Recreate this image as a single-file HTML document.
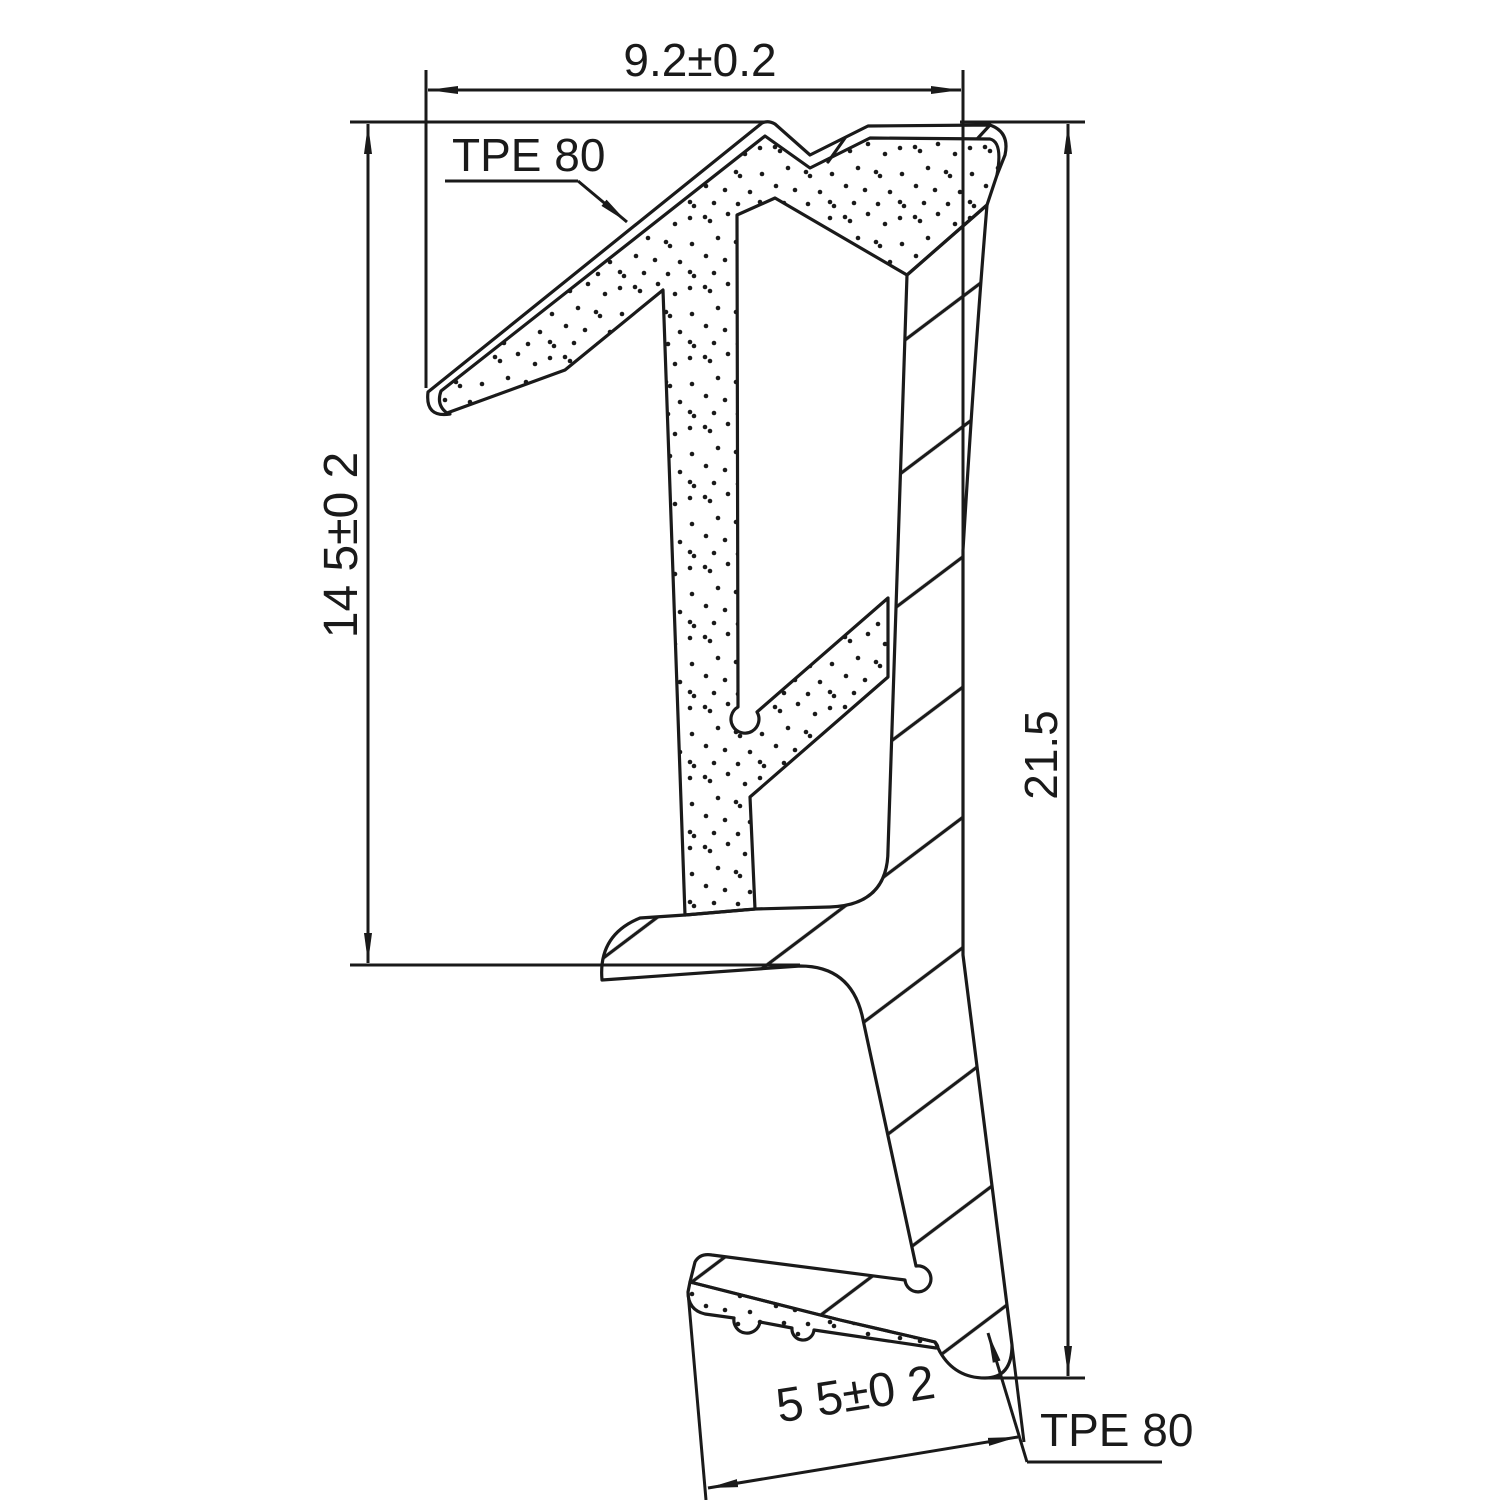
<!DOCTYPE html>
<html><head><meta charset="utf-8">
<style>
html,body{margin:0;padding:0;background:#fff;}
svg{display:block;}
text{font-family:"Liberation Sans Narrow","Liberation Sans","DejaVu Sans Condensed",sans-serif;fill:#1a1a1a;}
</style></head>
<body>
<svg width="1500" height="1500" viewBox="0 0 1500 1500" xmlns="http://www.w3.org/2000/svg">
<defs>
  <pattern id="dots" patternUnits="userSpaceOnUse" width="70" height="70">
    <circle cx="5" cy="7" r="2.3" fill="#1a1a1a"/>
    <circle cx="10" cy="11" r="2.3" fill="#1a1a1a"/>
    <circle cx="28" cy="4" r="2.3" fill="#1a1a1a"/>
    <circle cx="45" cy="14" r="2.3" fill="#1a1a1a"/>
    <circle cx="60" cy="8" r="2.3" fill="#1a1a1a"/>
    <circle cx="18" cy="28" r="2.3" fill="#1a1a1a"/>
    <circle cx="36" cy="32" r="2.3" fill="#1a1a1a"/>
    <circle cx="40" cy="36" r="2.3" fill="#1a1a1a"/>
    <circle cx="62" cy="34" r="2.3" fill="#1a1a1a"/>
    <circle cx="6" cy="46" r="2.3" fill="#1a1a1a"/>
    <circle cx="25" cy="50" r="2.3" fill="#1a1a1a"/>
    <circle cx="50" cy="52" r="2.3" fill="#1a1a1a"/>
    <circle cx="14" cy="63" r="2.3" fill="#1a1a1a"/>
    <circle cx="38" cy="64" r="2.3" fill="#1a1a1a"/>
    <circle cx="60" cy="62" r="2.3" fill="#1a1a1a"/>
    <circle cx="64" cy="66" r="2.3" fill="#1a1a1a"/>
  </pattern>
  <pattern id="hatch" patternUnits="userSpaceOnUse" width="400" height="104" x="905" y="340" patternTransform="rotate(-37 905 340)">
    <line x1="-10" y1="0" x2="410" y2="0" stroke="#1a1a1a" stroke-width="3.2"/>
    <line x1="-10" y1="104" x2="410" y2="104" stroke="#1a1a1a" stroke-width="3.2"/>
  </pattern>
  <marker id="ar" viewBox="0 0 30 10" refX="30" refY="5" markerWidth="30" markerHeight="10" markerUnits="userSpaceOnUse" orient="auto-start-reverse">
    <path d="M0,1 L30,5 L0,9 Z" fill="#1a1a1a"/>
  </marker>
</defs>

<g stroke="#1a1a1a" stroke-width="3.2" stroke-linejoin="round" stroke-linecap="round">
  <path fill="url(#hatch)" d="M907,275 L987,205 Q975,350 963,550 L963,955 L1012,1345 Q1012,1378 985,1378 Q955,1378 940,1352 L935,1342 L840,1320 L690,1282 L695,1262 Q700,1253 712,1255 L905,1280 A13 13 0 1 0 916,1266 L862,1015 Q850,966 800,966 L602,980 Q598,935 640,918 L685,915 L755,909 L830,907 Q888,905 888,850 Z"/>
  <path fill="url(#dots)" d="M447,413 L565,370 L663,290 L685,915 L755,909 L750,797 L888,677 L888,598 L757,712 A14 14 0 1 1 738,707 L737,215 L775,198 L907,275 L987,205 L997,175 Q1003,142 990,139 L870,138 L810,168 L765,136 L441,391 Q436,405 447,413 Z"/>
  <path fill="url(#dots)" d="M690,1282 L840,1320 L935,1342 Q940,1348 936,1348 L814,1330 A11 11 0 0 1 792,1328 L760,1322 A12 12 0 0 1 734,1318 L705,1314 Q688,1310 688,1292 Z"/>
  <path fill="none" d="M450,414 Q425,418 428,392 L762,123 Q768,120 775,124 L810,155 L868,126 L990,125 Q1010,132 1005,155 L997,175"/>
  <line x1="828" y1="162" x2="845" y2="138"/>
  <line x1="978" y1="138" x2="990" y2="125"/>
</g>

<g stroke="#1a1a1a" stroke-width="3" fill="none">
  <line x1="426" y1="70" x2="426" y2="388"/>
  <line x1="963" y1="70" x2="963" y2="955"/>
  <line x1="428" y1="90" x2="961" y2="90" marker-start="url(#ar)" marker-end="url(#ar)"/>
  <line x1="350" y1="122" x2="765" y2="122"/>
  <line x1="960" y1="122" x2="1085" y2="122"/>
  <line x1="350" y1="965" x2="800" y2="965"/>
  <line x1="985" y1="1378" x2="1085" y2="1378"/>
  <line x1="368" y1="124" x2="368" y2="963" marker-start="url(#ar)" marker-end="url(#ar)"/>
  <line x1="1068" y1="124" x2="1068" y2="1376" marker-start="url(#ar)" marker-end="url(#ar)"/>
  <line x1="1012" y1="1345" x2="1024" y2="1442"/>
  <line x1="688" y1="1292" x2="706" y2="1500"/>
  <line x1="708" y1="1488" x2="1018" y2="1437" marker-start="url(#ar)" marker-end="url(#ar)"/>
  <polyline points="445,181 578,181"/>
  <line x1="578" y1="181" x2="627" y2="222" marker-end="url(#ar)"/>
  <polyline points="1162,1462 1027,1462"/>
  <line x1="1027" y1="1462" x2="988" y2="1333" marker-end="url(#ar)"/>
</g>

<text x="700" y="76" font-size="46" text-anchor="middle">9.2±0.2</text>
<text x="452" y="171" font-size="46">TPE 80</text>
<text x="1040" y="1446" font-size="46">TPE 80</text>
<text transform="translate(357,545) rotate(-90)" font-size="48" text-anchor="middle">14 5±0 2</text>
<text transform="translate(1057,755) rotate(-90)" font-size="46" text-anchor="middle">21.5</text>
<text transform="translate(858,1410) rotate(-9)" font-size="48" text-anchor="middle">5 5±0 2</text>
</svg>
</body></html>
